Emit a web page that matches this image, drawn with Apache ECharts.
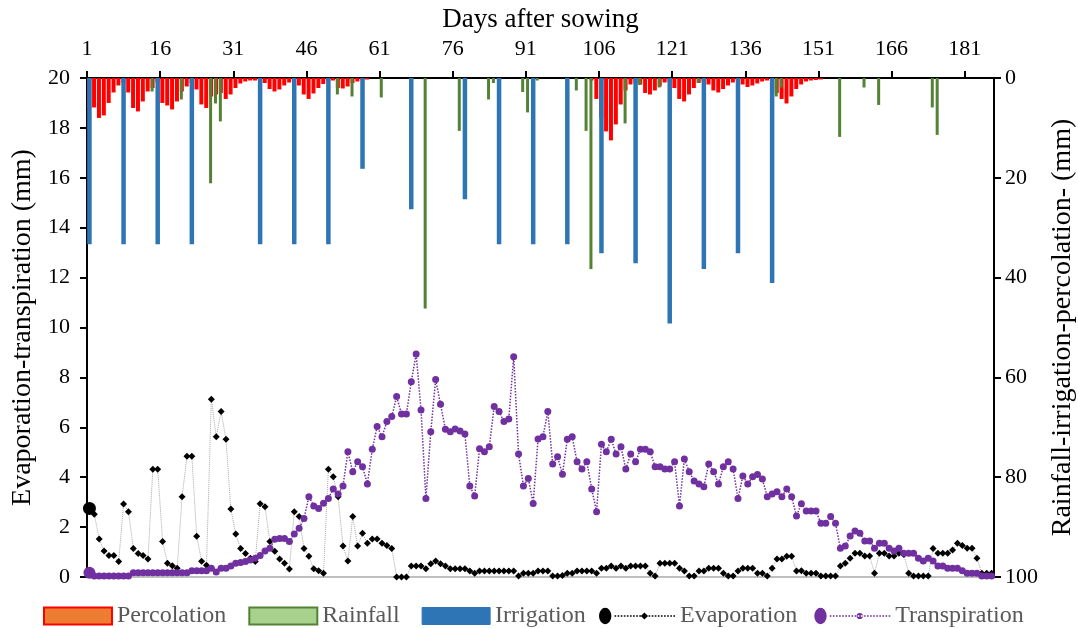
<!DOCTYPE html>
<html>
<head>
<meta charset="utf-8">
<script src="https://cdn.jsdelivr.net/npm/echarts/dist/echarts.min.js"></script>
<style>html,body{margin:0;padding:0;background:#fff}#c{width:1078px;height:628px}</style>
</head>
<body>
<div id="c"></div>
<script>
// ---------- data ----------
const days = Array.from({length: 186}, (_, i) => i + 1);          // data categories (days after sowing)
const axisDays = Array.from({length: 187}, (_, i) => String(i + 1)); // tick label categories

const percolation = [
 6.2,5.9,8.0,7.5,5.0,2.9,1.5,1.0,2.9,6.0,
 6.7,4.7,2.7,2.0,0.9,5.0,5.5,6.3,4.7,2.7,
 1.7,1.0,2.3,5.3,6.0,3.7,3.3,3.0,4.2,3.3,
 2.0,1.1,0.7,0.5,0.5,0.3,1.0,2.2,2.7,2.3,
 1.5,0.9,0.7,1.5,3.3,4.2,3.1,2.0,1.2,0.7,
 0.5,2.0,2.1,1.7,1.0,0.7,0.4,0.3,0,0,
 0,0,0,0,0,0,0,0,0,0,
 0,0,0,0,0,0,0,0,0,0,
 0,0,0,0,0,0,0,0,0,0,
 0,0,0,0,0,0,0,0,0,0,
 0,0,0,0.5,4.2,8.0,10.7,12.5,9.3,5.3,
 2.5,1.3,0.9,1.3,3.0,3.3,2.5,1.7,0.9,0.7,
 2.0,4.2,4.7,3.3,2.0,1.0,0.7,1.3,2.5,2.9,
 2.2,1.5,0.9,0.5,1.3,1.8,1.5,1.1,0.7,0.5,
 0.5,3.0,4.2,5.1,3.7,2.2,1.3,0.7,0.5,0.4,
 0.3,0,0,0,0,0,0,0,0,0,
 0,0,0,0,0,0,0,0,0,0,
 0,0,0,0,0,0,0,0,0,0,
 0,0,0,0,0,0
];

const rainDays = [14,20,26,27,28,52,55,61,70,77,83,84,90,91,93,101,103,104,111,114,118,126,142,143,155,160,163,174,175];
const rainMm   = [2.7,4.3,21.1,5.1,8.7,3.3,3.7,3.9,46.2,10.6,4.3,1.0,2.8,6.9,0.5,2.5,10.6,38.3,9.1,1.4,1.9,1.0,3.7,1.9,11.8,1.9,5.4,5.9,11.4];

const irrigationDays = [1,8,15,22,36,43,50,57,67,78,85,92,99,106,113,120,127,134,141];
const irrigationMm   = [33.3,33.3,33.3,33.3,33.3,33.3,33.3,18.2,26.3,24.3,33.3,33.3,33.3,35.1,37.1,49.2,38.3,35.1,41.1];

const evaporation = [
 2.75,2.52,1.52,1.04,0.86,0.86,0.62,2.93,2.62,1.14,
 0.94,0.86,0.72,4.32,4.32,1.42,0.55,0.45,0.35,3.22,
 4.84,4.84,1.63,0.63,0.47,7.12,5.62,6.63,5.52,2.73,
 1.72,1.14,0.94,0.75,0.62,2.94,2.82,1.42,1.03,0.72,
 0.55,0.32,2.62,2.42,1.14,0.83,0.33,0.25,0.15,4.32,
 4.02,3.22,1.24,0.64,2.42,1.24,1.75,1.35,1.52,1.52,
 1.35,1.26,1.14,0,0,0,0.44,0.44,0.44,0.33,
 0.53,0.64,0.53,0.44,0.33,0.33,0.33,0.33,0.24,0.15,
 0.24,0.24,0.24,0.24,0.24,0.24,0.24,0.24,0.04,0.15,
 0.15,0.15,0.24,0.24,0.24,0.04,0.04,0.06,0.15,0.15,
 0.24,0.24,0.24,0.24,0.15,0.35,0.35,0.44,0.35,0.44,
 0.35,0.44,0.44,0.44,0.44,0.15,0.04,0.55,0.55,0.55,
 0.55,0.35,0.24,0.04,0.04,0.24,0.24,0.35,0.35,0.35,
 0.15,0.04,0.04,0.24,0.35,0.35,0.35,0.15,0.15,0.04,
 0.35,0.72,0.72,0.83,0.83,0.24,0.25,0.15,0.15,0.15,
 0.04,0.04,0.04,0.04,0.44,0.55,0.75,0.95,0.95,0.84,
 0.84,0.15,0.95,0.95,0.84,0.84,0.95,0.9,0.15,0.04,
 0.04,0.04,0.04,1.14,0.95,0.95,0.95,1.08,1.35,1.26,
 1.15,1.15,0.75,0.15,0.15,0.15
];

const transpiration = [
 0.17,0.04,0.04,0.04,0.04,0.04,0.04,0.04,0.04,0.17,
 0.17,0.17,0.17,0.17,0.17,0.17,0.17,0.17,0.17,0.17,
 0.17,0.25,0.25,0.25,0.25,0.35,0.2,0.35,0.35,0.44,
 0.55,0.58,0.62,0.68,0.75,0.86,1.04,1.15,1.51,1.54,
 1.54,1.42,1.72,1.95,2.34,3.22,2.85,2.75,2.96,3.15,
 3.53,3.33,3.65,5.02,4.22,4.62,4.42,3.73,5.12,6.03,
 5.62,6.23,6.43,7.23,6.53,6.53,7.83,8.94,6.69,3.15,
 5.82,7.92,6.92,5.92,5.82,5.93,5.85,5.73,3.65,3.25,
 5.14,5.02,5.22,6.83,6.63,6.23,6.33,8.83,4.93,3.65,
 3.95,2.95,5.53,5.62,6.63,4.53,4.82,4.12,5.52,5.62,
 4.62,4.33,4.62,3.53,2.62,5.32,5.02,5.52,4.93,5.22,
 4.33,4.93,4.62,5.12,5.12,5.02,4.42,4.42,4.33,4.33,
 4.62,2.85,4.73,4.22,3.85,3.73,3.62,4.53,4.22,3.73,
 4.42,4.62,4.33,3.15,4.05,3.73,4.02,4.11,3.93,3.22,
 3.33,3.42,3.22,3.53,3.22,2.44,2.94,2.65,2.65,2.65,
 2.15,2.15,2.42,2.15,1.15,1.24,1.64,1.84,1.75,1.44,
 1.44,1.15,1.35,1.35,1.15,1.04,1.15,0.95,0.95,0.95,
 0.75,0.64,0.75,0.64,0.44,0.44,0.35,0.35,0.35,0.25,
 0.15,0.15,0.15,0.04,0.04,0.04
];

// ---------- build ----------
const rainSeries = days.map(d => { const i = rainDays.indexOf(d); return i < 0 ? null : rainMm[i]; });
const irrSeries  = days.map(d => { const i = irrigationDays.indexOf(d); return i < 0 ? null : irrigationMm[i]; });

const FONT = 'Liberation Serif';

function lineIcon(marker) {
  let p = 'M0,9A6,8,0,1,0,12,9A6,8,0,1,0,0,9Z';
  for (let x = 15; x <= 73; x += 3) p += 'M' + x + ',8.3h1.6v1.4h-1.6Z';
  return 'path://' + p + marker;
}
const diamondMarker = 'M44,5.5L47.5,9L44,12.5L40.5,9Z';
const dotMarker = 'M41,9A3,3,0,1,0,47,9A3,3,0,1,0,41,9Z';

const chart = echarts.init(document.getElementById('c'), null, {renderer: 'canvas'});
chart.setOption({
  animation: false,
  backgroundColor: '#fff',
  textStyle: {fontFamily: FONT},
  grid: {left: 87, right: 84, top: 78, bottom: 51, containLabel: false, outerBoundsMode: 'none'},
  legend: [
    {
      left: 38, top: 599, orient: 'horizontal',
      itemWidth: 68, itemHeight: 17, itemGap: 22,
      textStyle: {fontFamily: FONT, fontSize: 24, color: '#595959'},
      data: [
        {name: 'Percolation', icon: 'rect', itemStyle: {color: '#ED7D31', borderColor: '#FF0000', borderWidth: 2}},
        {name: 'Rainfall', icon: 'rect', itemStyle: {color: '#A9D18E', borderColor: '#548235', borderWidth: 2}},
        {name: 'Irrigation', icon: 'rect', itemStyle: {color: '#2E75B6', borderColor: '#2E75B6', borderWidth: 1}}
      ]
    },
    {
      left: 594, top: 599, orient: 'horizontal',
      itemWidth: 76, itemHeight: 18, itemGap: 17,
      textStyle: {fontFamily: FONT, fontSize: 24, color: '#595959'},
      data: [
        {name: 'Evaporation', icon: lineIcon(diamondMarker), itemStyle: {color: '#000', borderWidth: 0}},
        {name: 'Transpiration', icon: lineIcon(dotMarker), itemStyle: {color: '#7030A0', borderWidth: 0}}
      ]
    }
  ],
  xAxis: [
    {
      type: 'category', data: axisDays, boundaryGap: false, position: 'top',
      axisLine: {show: true, onZero: false, lineStyle: {color: '#000', width: 2}},
      axisTick: {show: true, interval: 14, length: 7, inside: false, lineStyle: {color: '#000', width: 2}},
      axisLabel: {interval: 14, fontFamily: FONT, fontSize: 22, color: '#000', margin: 18},
      splitLine: {show: false},
      name: 'Days after sowing', nameLocation: 'middle', nameGap: 44,
      nameTextStyle: {fontFamily: FONT, fontSize: 27, color: '#000'}
    },
    {
      type: 'category', data: days, boundaryGap: true, position: 'bottom',
      axisLine: {show: true, onZero: false, lineStyle: {color: '#BFBFBF', width: 2}},
      axisTick: {show: false}, axisLabel: {show: false}, splitLine: {show: false}
    }
  ],
  yAxis: [
    {
      type: 'value', min: 0, max: 20, interval: 2, position: 'left',
      axisLine: {show: true, onZero: false, lineStyle: {color: '#000', width: 2}},
      axisTick: {show: true, length: 7, inside: false, lineStyle: {color: '#000', width: 2}},
      axisLabel: {fontFamily: FONT, fontSize: 22, color: '#000', margin: 17},
      splitLine: {show: false},
      name: 'Evaporation-transpiration (mm)', nameLocation: 'middle', nameGap: 50, nameRotate: 90,
      nameTextStyle: {fontFamily: FONT, fontSize: 28, color: '#000'}
    },
    {
      type: 'value', min: 0, max: 100, interval: 20, inverse: true, position: 'right',
      axisLine: {show: true, onZero: false, lineStyle: {color: '#000', width: 2}},
      axisTick: {show: true, length: 7, inside: false, lineStyle: {color: '#000', width: 2}},
      axisLabel: {fontFamily: FONT, fontSize: 22, color: '#000', margin: 11},
      splitLine: {show: false},
      name: 'Rainfall-irrigation-percolation- (mm)', nameLocation: 'middle', nameGap: 54, nameRotate: 90,
      nameTextStyle: {fontFamily: FONT, fontSize: 28, color: '#000'}
    }
  ],
  series: [
    {name: 'Percolation', type: 'bar', xAxisIndex: 1, yAxisIndex: 1, data: percolation,
     barWidth: 4, barGap: '-100%', itemStyle: {color: '#FF0000'}},
    {name: 'Rainfall', type: 'bar', xAxisIndex: 1, yAxisIndex: 1, data: rainSeries,
     barWidth: 3, barGap: '-100%', itemStyle: {color: '#548235'}},
    {name: 'Irrigation', type: 'bar', xAxisIndex: 1, yAxisIndex: 1, data: irrSeries,
     barWidth: 4.5, barGap: '-100%', itemStyle: {color: '#2E75B6'}},
    {name: 'Evaporation', type: 'line', xAxisIndex: 1, yAxisIndex: 0,
     data: evaporation.map((v, i) => i === 0 ? {value: v, symbol: 'circle', symbolSize: 13} : v),
     symbol: 'diamond', symbolSize: 7, showAllSymbol: true,
     itemStyle: {color: '#000'},
     lineStyle: {color: '#A6A6A6', width: 1, type: 'dotted'}},
    {name: 'Transpiration', type: 'line', xAxisIndex: 1, yAxisIndex: 0,
     data: transpiration.map((v, i) => i === 0 ? {value: v, symbol: 'circle', symbolSize: 12} : v),
     symbol: 'circle', symbolSize: 7, showAllSymbol: true,
     itemStyle: {color: '#7030A0'},
     lineStyle: {color: '#7030A0', width: 1.5, type: 'dotted'}}
  ]
});
</script>
</body>
</html>
